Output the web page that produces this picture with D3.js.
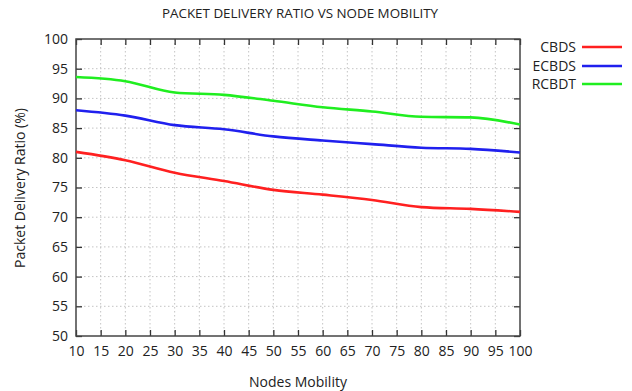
<!DOCTYPE html>
<html>
<head>
<meta charset="utf-8">
<script src="https://cdn.jsdelivr.net/npm/d3@7/dist/d3.min.js"></script>
<style>
  html, body { margin: 0; padding: 0; background: #fff; }
  svg { display: block; font-family: "Open Sans", "DejaVu Sans", sans-serif; }
</style>
</head>
<body>
<svg id="chart" width="632" height="391"></svg>
<script>
// Node mobility values on the x axis
const mobility = [10, 20, 30, 40, 50, 60, 70, 80, 90, 100];
// Packet delivery ratio (%) per protocol
const cbds  = [81.0, 79.6, 77.5, 76.1, 74.6, 73.8, 72.9, 71.7, 71.4, 70.9];
const ecbds = [88.0, 87.1, 85.5, 84.8, 83.6, 82.9, 82.3, 81.7, 81.5, 80.9];
const rcbdt = [93.6, 92.9, 91.0, 90.6, 89.6, 88.5, 87.8, 86.9, 86.8, 85.6];
const seriesNames = ["CBDS", "ECBDS", "RCBDT"];
const seriesColors = ["#ff2020", "#2020ee", "#20ee20"];
const xTicks = d3.range(10, 101, 5);
const yTicks = d3.range(50, 101, 5);

const svg = d3.select("#chart");
const margin = { left: 76, top: 39, right: 520, bottom: 336 };

const x = d3.scaleLinear().domain([10, 100]).range([margin.left, margin.right]);
const y = d3.scaleLinear().domain([50, 100]).range([margin.bottom, margin.top]);

// Dotted grid
const grid = svg.append("g").attr("stroke", "#c4c4c4").attr("stroke-width", 1)
  .attr("stroke-dasharray", "1.5,2.5");
grid.selectAll("line.gx").data(xTicks.slice(1, -1)).join("line")
  .attr("x1", d => x(d)).attr("x2", d => x(d))
  .attr("y1", margin.top).attr("y2", margin.bottom);
grid.selectAll("line.gy").data(yTicks.slice(1, -1)).join("line")
  .attr("x1", margin.left).attr("x2", margin.right)
  .attr("y1", d => y(d)).attr("y2", d => y(d));

// Axes with inward ticks, mirrored on top and right
const tickColor = "#333";
const axisBottom = d3.axisBottom(x).tickValues(xTicks).tickSize(-6).tickPadding(10);
const axisLeft = d3.axisLeft(y).tickValues(yTicks).tickSize(-6).tickPadding(8);
const axisTop = d3.axisTop(x).tickValues(xTicks).tickSize(-6).tickFormat("");
const axisRight = d3.axisRight(y).tickValues(yTicks).tickSize(-6).tickFormat("");

function styleAxis(g) {
  g.select(".domain").remove();
  g.selectAll("line").attr("stroke", tickColor).attr("stroke-width", 1.3);
  g.selectAll("text").attr("fill", "#222").attr("font-size", 14)
    .attr("font-family", "'Open Sans', sans-serif");
}
svg.append("g").attr("transform", `translate(0,${margin.bottom})`).call(axisBottom).call(styleAxis);
svg.append("g").attr("transform", `translate(${margin.left},0)`).call(axisLeft).call(styleAxis);
svg.append("g").attr("transform", `translate(0,${margin.top})`).call(axisTop).call(styleAxis);
svg.append("g").attr("transform", `translate(${margin.right},0)`).call(axisRight).call(styleAxis);

// Plot border
svg.append("rect")
  .attr("x", margin.left).attr("y", margin.top)
  .attr("width", margin.right - margin.left).attr("height", margin.bottom - margin.top)
  .attr("fill", "none").attr("stroke", "#444").attr("stroke-width", 1.5);

// Lines
const allSeries = [cbds, ecbds, rcbdt];
const line = d3.line().x((d, i) => x(mobility[i])).y(d => y(d)).curve(d3.curveMonotoneX);
svg.append("g").selectAll("path").data(allSeries).join("path")
  .attr("d", d => line(d))
  .attr("fill", "none")
  .attr("stroke", (d, i) => seriesColors[i])
  .attr("stroke-width", 2.6)
  .attr("stroke-linejoin", "round");

// Legend
const legend = svg.append("g");
const legendY = [47, 66, 84];
seriesNames.forEach((name, i) => {
  legend.append("text").attr("x", 576).attr("y", legendY[i]).attr("dy", "0.35em")
    .attr("text-anchor", "end").attr("font-size", 14).attr("fill", "#222").text(name);
  legend.append("line").attr("x1", 582).attr("x2", 622)
    .attr("y1", legendY[i]).attr("y2", legendY[i])
    .attr("stroke", seriesColors[i]).attr("stroke-width", 2.6);
});

// Titles
svg.append("text").attr("x", 300).attr("y", 13).attr("dy", "0.35em")
  .attr("text-anchor", "middle").attr("font-size", 13.4).attr("fill", "#222")
  .text("PACKET DELIVERY RATIO VS NODE MOBILITY");
svg.append("text").attr("x", 298).attr("y", 382).attr("dy", "0.35em")
  .attr("text-anchor", "middle").attr("font-size", 14).attr("fill", "#222")
  .text("Nodes Mobility");
svg.append("text").attr("transform", "translate(20,188) rotate(-90)").attr("dy", "0.35em")
  .attr("text-anchor", "middle").attr("font-size", 14).attr("fill", "#222")
  .text("Packet Delivery Ratio (%)");
</script>
</body>
</html>
